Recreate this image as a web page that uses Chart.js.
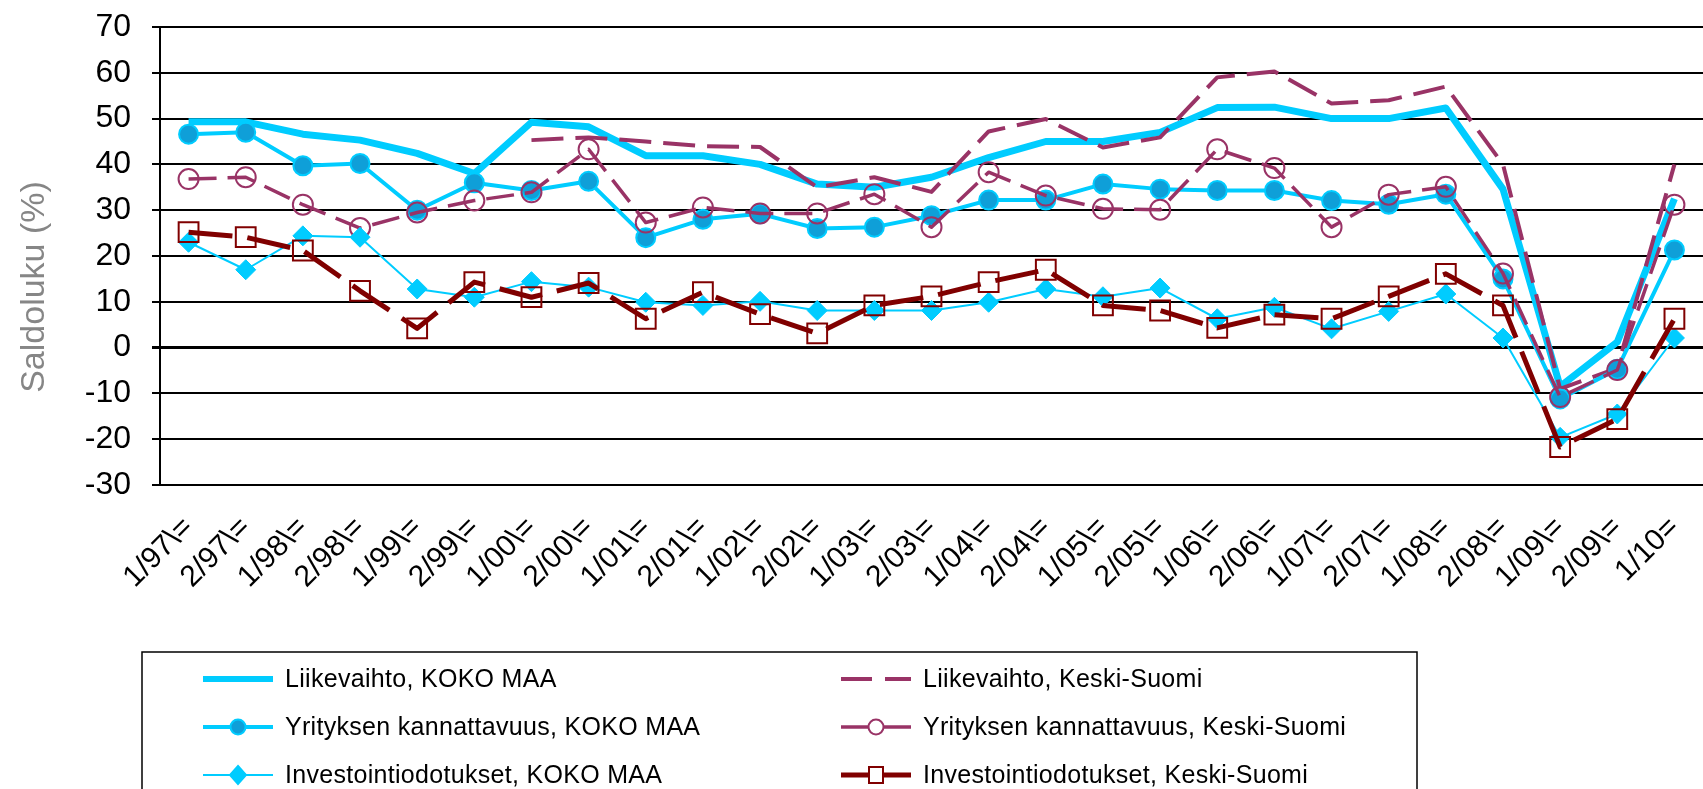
<!DOCTYPE html>
<html>
<head>
<meta charset="utf-8">
<title>Saldoluku</title>
<script src="https://cdn.jsdelivr.net/npm/chart.js@4"></script>
<style>
    html, body { margin: 0; padding: 0; background: #fff; overflow: hidden; }
    #wrap { position: relative; width: 1719px; height: 789px; }
</style>
</head>
<body>
<div id="wrap"><canvas id="saldoChart" width="1719" height="789"></canvas></div>
<script>
// Categories (half-year periods)
const periods = ['1/97\\=', '2/97\\=', '1/98\\=', '2/98\\=', '1/99\\=', '2/99\\=', '1/00\\=', '2/00\\=',
    '1/01\\=', '2/01\\=', '1/02\\=', '2/02\\=', '1/03\\=', '2/03\\=', '1/04\\=', '2/04\\=', '1/05\\=',
    '2/05\\=', '1/06\\=', '2/06\\=', '1/07\\=', '2/07\\=', '1/08\\=', '2/08\\=', '1/09\\=', '2/09\\=', '1/10='];

// Series values (saldoluku, %)
const liikevaihtoKokoMaa = [49.3, 49.3, 46.6, 45.3, 42.4, 38, 49.2, 48.2, 41.9, 41.9, 40, 35.7, 35, 37.2,
    41.5, 45, 45, 47, 52.4, 52.5, 50, 50, 52.3, 34.6, -8.5, 1.2, 32.5];
const liikevaihtoKeskiSuomi = [null, null, null, null, null, null, 45.3, 45.9, 45, 44, 43.8, 35, 37.2, 34,
    47.2, 49.9, 43.7, 45.9, 59, 60.3, 53.3, 54, 57, 40, -9, -4.5, 40];
const kannattavuusKokoMaa = [46.6, 47, 39.7, 40.2, 30, 36, 34.3, 36.3, 24, 28, 29.2, 26, 26.3, 28.8,
    32.2, 32.2, 35.7, 34.6, 34.3, 34.3, 32.1, 31.3, 33.5, 15, -11.2, -4.7, 21.3];
const kannattavuusKeskiSuomi = [36.8, 37.2, 31.2, 26.1, 29.5, 32.1, 33.9, 43.3, 27.3, 30.6, 29.3, 29.3,
    33.5, 26.3, 38.3, 33.2, 30.3, 30.1, 43.3, 39.2, 26.3, 33.4, 35.1, 16.2, -10.8, -4.9, 31.2];
const investointiKokoMaa = [23, 17, 24.4, 24.1, 12.8, 11, 14.4, 13.2, 9.9, 9.2, 10.1, 8.1, 8.1, 8.1,
    9.9, 12.8, 11.1, 13, 6.3, 8.8, 4.1, 7.9, 11.7, 2.1, -19.6, -14.5, 2.1];
const investointiKeskiSuomi = [25.2, 24.1, 21.2, 12.4, 4.2, 14.3, 11, 14.1, 6.3, 12.1, 7.3, 3.1, 9.2,
    11.2, 14.3, 17, 9.2, 8.1, 4.3, 7.2, 6.3, 11.2, 16.1, 9.2, -21.7, -15.6, 6.3];

// Y axis range
const yMin = -30;
const yMax = 70;
const yStep = 10;

const CYAN = '#00ccff';
const BLUE = '#0f9fd8';
const PLUM = '#993366';
const MAROON = '#800000';
const FONT = '"Liberation Sans", Arial, sans-serif';

/**
 * Draws the y axis title and the boxed two-column legend
 */
const boxLegend = {
    id: 'boxLegend',
    afterDraw(chart) {
        const ctx = chart.ctx;

        // axis title
        ctx.save();
        ctx.translate(35, 287);
        ctx.rotate(-Math.PI / 2);
        ctx.font = '34px ' + FONT;
        ctx.fillStyle = '#868686';
        ctx.textAlign = 'center';
        ctx.textBaseline = 'middle';
        ctx.fillText('Saldoluku (%)', 0, 0);
        ctx.restore();

        // legend frame
        ctx.save();
        ctx.strokeStyle = '#000';
        ctx.lineWidth = 1.5;
        ctx.strokeRect(142, 652, 1275, 300);

        const sampleX = [203, 841];
        const textX = [285, 923];
        const rowY = [679, 727, 775];

        chart.data.datasets.forEach((ds, i) => {
            const col = i % 2;
            const row = Math.floor(i / 2);
            const x0 = sampleX[col];
            const x1 = x0 + 70;
            const y = rowY[row];

            ctx.save();
            ctx.strokeStyle = ds.borderColor;
            ctx.lineWidth = Math.min(ds.borderWidth, 6);
            ctx.setLineDash(ds.legendDash || []);
            ctx.beginPath();
            ctx.moveTo(x0, y);
            ctx.lineTo(x1, y);
            ctx.stroke();
            ctx.setLineDash([]);

            const cx = (x0 + x1) / 2;
            if (ds.pointRadius > 0) {
                ctx.fillStyle = ds.pointBackgroundColor === 'rgba(0,0,0,0)' ? '#fff' : ds.pointBackgroundColor;
                ctx.strokeStyle = ds.pointBorderColor;
                ctx.lineWidth = 2;
                ctx.beginPath();
                if (ds.pointStyle === 'circle') {
                    ctx.arc(cx, y, 7.5, 0, Math.PI * 2);
                } else if (ds.pointStyle === 'rectRot') {
                    ctx.moveTo(cx, y - 9);
                    ctx.lineTo(cx + 8, y);
                    ctx.lineTo(cx, y + 9);
                    ctx.lineTo(cx - 8, y);
                    ctx.closePath();
                } else {
                    ctx.rect(cx - 7, y - 8, 14, 16);
                }
                ctx.fill();
                ctx.stroke();
            }
            ctx.restore();

            ctx.font = '25px ' + FONT;
            ctx.letterSpacing = '0.3px';
            ctx.fillStyle = '#000';
            ctx.textAlign = 'left';
            ctx.textBaseline = 'middle';
            ctx.fillText(ds.label, textX[col], y + 1);
        });
        ctx.restore();
    }
};

const datasets = [
    {
        label: 'Liikevaihto, KOKO MAA',
        data: liikevaihtoKokoMaa,
        borderColor: CYAN,
        borderWidth: 7,
        pointRadius: 0
    },
    {
        label: 'Liikevaihto, Keski-Suomi',
        data: liikevaihtoKeskiSuomi,
        borderColor: PLUM,
        borderWidth: 4,
        borderDash: [32, 12],
        legendDash: [31, 13],
        pointRadius: 0
    },
    {
        label: 'Yrityksen kannattavuus, KOKO MAA',
        data: kannattavuusKokoMaa,
        borderColor: CYAN,
        borderWidth: 4,
        pointStyle: 'circle',
        pointRadius: 9.5,
        pointBackgroundColor: BLUE,
        pointBorderColor: CYAN,
        pointBorderWidth: 2
    },
    {
        label: 'Yrityksen kannattavuus, Keski-Suomi',
        data: kannattavuusKeskiSuomi,
        borderColor: PLUM,
        borderWidth: 3.5,
        borderDash: [28, 11],
        pointStyle: 'circle',
        pointRadius: 10,
        pointBackgroundColor: 'rgba(0,0,0,0)',
        pointBorderColor: PLUM,
        pointBorderWidth: 2
    },
    {
        label: 'Investointiodotukset, KOKO MAA',
        data: investointiKokoMaa,
        borderColor: CYAN,
        borderWidth: 2,
        pointStyle: 'rectRot',
        pointRadius: 10,
        pointBackgroundColor: CYAN,
        pointBorderColor: CYAN,
        pointBorderWidth: 1
    },
    {
        label: 'Investointiodotukset, Keski-Suomi',
        data: investointiKeskiSuomi,
        borderColor: MAROON,
        borderWidth: 5,
        borderDash: [44, 15],
        pointStyle: 'rect',
        pointRadius: 14,
        pointBackgroundColor: 'rgba(0,0,0,0)',
        pointBorderColor: MAROON,
        pointBorderWidth: 2
    }
];

// later series on top, as in the original
datasets.forEach((ds, i) => {
    ds.order = datasets.length - i;
    ds.tension = 0;
    ds.fill = false;
    ds.spanGaps = false;
    ds.borderJoinStyle = 'round';
});

new Chart(document.getElementById('saldoChart'), {
    type: 'line',
    data: {
        labels: periods,
        datasets: datasets
    },
    options: {
        responsive: false,
        animation: false,
        events: [],
        layout: {
            padding: { top: 27, right: 0, bottom: 0, left: 0 }
        },
        plugins: {
            legend: { display: false },
            tooltip: { enabled: false }
        },
        scales: {
            x: {
                type: 'category',
                offset: true,
                grid: { display: false, drawTicks: false },
                border: { display: true, color: '#000', width: 2 },
                ticks: {
                    color: '#000',
                    font: { family: FONT, size: 30 },
                    autoSkip: false,
                    maxRotation: 45,
                    minRotation: 45,
                    padding: 25
                },
                afterFit(scale) {
                    scale.height = 789 - 485;
                    scale.paddingLeft = 0;
                    scale.paddingRight = 0;
                }
            },
            y: {
                min: yMin,
                max: yMax,
                ticks: {
                    stepSize: yStep,
                    color: '#000',
                    font: { family: FONT, size: 32 },
                    padding: 21
                },
                grid: {
                    color: '#000',
                    tickColor: '#000',
                    tickLength: 8,
                    lineWidth: (c) => (c.tick && c.tick.value === 0 ? 3 : 2)
                },
                border: { display: true, color: '#000', width: 2 },
                afterFit(scale) {
                    scale.width = 160;
                    scale.paddingTop = 0;
                    scale.paddingBottom = 0;
                }
            }
        }
    },
    plugins: [boxLegend]
});
</script>
</body>
</html>
